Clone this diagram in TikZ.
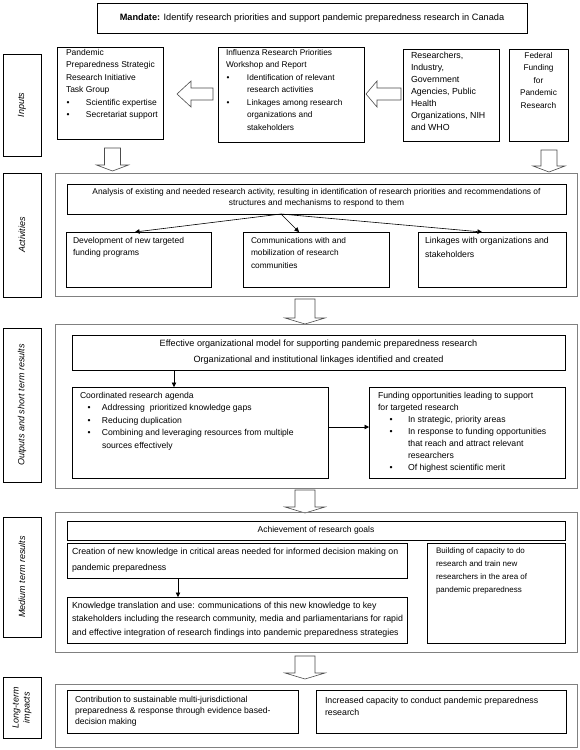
\documentclass[tikz,border=0pt]{standalone}
\usepackage{fontspec}
\setmainfont{Liberation Sans}
\usetikzlibrary{arrows.meta}
\newcommand\fsz[2]{\fontsize{#1}{#2}\selectfont}
\newcommand\myfs{\fsz{8.5}{12.5}}
\newcommand\bul[1][20pt]{\makebox[#1][l]{\hspace{0.5pt}\textbullet}}
\newcommand\hang[1][20pt]{\hspace*{#1}}
\newcommand\bx[6][box]{\node[#1, anchor=north west, inner sep=0pt, outer sep=0pt, minimum width={#5-#3}, minimum height={#6-#4}] (#2) at (#3,#4) {};}
\newcommand\downarr[5]{% cx, y1, y2, y3, half head width
  \draw[blockarr] (#1-#5*0.5,#2) -- (#1+#5*0.5,#2) -- (#1+#5*0.5,#3) -- (#1+#5,#3) -- (#1,#4) -- (#1-#5,#3) -- (#1-#5*0.5,#3) -- cycle;}
\newcommand\leftarr[4]{% tip x, head base x, tail x, cy
  \draw[blockarr] (#1,#4) -- (#2,#4-13) -- (#2,#4-6) -- (#3,#4-6) -- (#3,#4+6) -- (#2,#4+6) -- (#2,#4+13) -- cycle;}
\begin{document}
\begin{tikzpicture}[x=1pt,y=-1pt,
  box/.style={draw=black, line width=0.75pt, fill=white},
  cont/.style={draw=black!50, line width=0.9pt},
  blockarr/.style={draw=black!70, line width=0.6pt, fill=white},
  arr/.style={draw=black, line width=0.6pt, -{Triangle[length=4.5pt,width=4.5pt]}},
  txt/.style={inner sep=0pt, outer sep=0pt, anchor=north west, align=left, font=\myfs},
  ctxt/.style={inner sep=0pt, outer sep=0pt, anchor=north, align=center, font=\myfs},
  lbl/.style={rotate=90, inner sep=0pt, align=center, font=\fsz{9}{11}\itshape}]
\useasboundingbox[fill=white] (0,0) rectangle (580,750);

% mandate
\bx{mand}{97}{3}{527}{33}
\node[inner sep=0pt, font=\fsz{9.2}{11}] (mandt) at (mand.center) {\textbf{Mandate:} Identify research priorities and support pandemic preparedness research in Canada};

% side labels
\bx{linp}{3}{54}{41}{156}
\bx{lact}{3}{173}{41}{297}
\bx{lout}{3}{328}{41}{482}
\bx{lmed}{3}{517}{41}{637}
\bx{llng}{3}{677}{41}{738}
\node[lbl] (linpt) at (linp.center) {Inputs};
\node[lbl] (lactt) at (lact.center) {Activities};
\node[lbl] (loutt) at (lout.center) {Outputs and short term results};
\node[lbl] (lmedt) at (lmed.center) {Medium term results};
\node[lbl] (llngt) at (llng.center) {Long-term\\impacts};

% inputs
\bx{tg}{57}{47}{163}{139}
\bx{infl}{218}{47}{364}{142}
\bx{res}{403}{49}{499}{141}
\bx{fed}{509}{49}{568}{141}
\node[txt] (tgt) at (66,49) {Pandemic\\Preparedness Strategic\\Research Initiative\\Task Group\\\bul Scientific expertise\\\bul Secretariat support};
\node[txt, font=\fsz{8.3}{12.5}] (inflt) at (226,49) {Influenza Research Priorities\\Workshop and Report\\\bul[21pt]Identification of relevant\\\hang[21pt]research activities\\\bul[21pt]Linkages among research\\\hang[21pt]organizations and\\\hang[21pt]stakeholders};
\node[txt, font=\fsz{8.8}{12}] (rest) at (411,52) {Researchers,\\Industry,\\Government\\Agencies, Public\\Health\\Organizations, NIH\\and WHO};
\node[ctxt, font=\fsz{8.3}{12.5}] (fedt) at (538.5,52) {Federal\\Funding\\for\\Pandemic\\Research};
\leftarr{177}{191}{213}{94}
\leftarr{366}{377}{401}{94}
\downarr{112.5}{148}{165}{171}{16}
\downarr{549}{150}{166}{172}{16}

% activities
\bx[cont]{actc}{55}{173}{577}{296}
\bx{ana}{67}{184}{566}{214}
\bx{dev}{66}{232}{211}{287}
\bx{com}{243}{232}{389}{287}
\bx{lnk}{418}{232}{566}{287}
\node[ctxt, font=\fsz{8.4}{11.5}] (anat) at (316.5,188) {Analysis of existing and needed research activity, resulting in identification of research priorities and recommendations of\\structures and mechanisms to respond to them};
\node[txt] (devt) at (73,237) {Development of new targeted\\funding programs};
\node[txt, font=\fsz{8.3}{12.5}] (comt) at (251,237) {Communications with and\\mobilization of research\\communities};
\node[txt, font=\fsz{8.7}{14}] (lnkt) at (425,237) {Linkages with organizations and\\stakeholders};
\coordinate (asrc) at (281,214);
\draw[arr] (asrc) -- (dev.north -| 135,0);
\draw[arr] (asrc) -- (com.north -| 299,0);
\draw[arr] (asrc) -- (lnk.north -| 482,0);
\downarr{305}{299}{318}{324}{20}

% outputs
\bx[cont]{outc}{55}{324}{577}{488}
\bx{eff}{72}{335}{565}{370}
\bx{crd}{72}{387}{328}{478}
\bx{fnd}{369}{387}{565}{478}
\node[ctxt, font=\fsz{9.1}{16}] (efft) at (318.5,340) {Effective organizational model for supporting pandemic preparedness research\\Organizational and institutional linkages identified and created};
\node[txt, font=\fsz{8.6}{12.5}] (crdt) at (80,392) {Coordinated research agenda\\\hang[7pt]\bul[15pt]Addressing\ \ prioritized knowledge gaps\\\hang[7pt]\bul[15pt]Reducing duplication\\\hang[7pt]\bul[15pt]Combining and leveraging resources from multiple\\\hang[22pt]sources effectively};
\node[txt, font=\fsz{8.7}{12}] (fndt) at (378,392) {Funding opportunities leading to support\\for targeted research\\\hang[11pt]\bul[19pt]In strategic, priority areas\\\hang[11pt]\bul[19pt]In response to funding opportunities\\\hang[30pt]that reach and attract relevant\\\hang[30pt]researchers\\\hang[11pt]\bul[19pt]Of highest scientific merit};
\draw[arr] (eff.south -| 174,0) -- (crd.north -| 174,0);
\draw[arr] (crd.east |- 0,427) -- (fnd.west |- 0,427);
\downarr{305}{490}{507}{513}{20}

% medium term
\bx[cont]{medc}{55}{512}{577}{652}
\bx{ach}{67}{521}{565}{540}
\bx{cre}{67}{543}{407}{578}
\bx{kno}{67}{597}{407}{643}
\bx{bld}{427}{543}{565}{643}
\node[inner sep=0pt, font=\myfs] (acht) at (ach.center) {Achievement of research goals};
\node[txt, font=\fsz{8.8}{16}] (cret) at (72,548) {Creation of new knowledge in critical areas needed for informed decision making on\\pandemic preparedness};
\node[txt, font=\fsz{8.8}{13.5}] (knot) at (72,602) {Knowledge translation and use: communications of this new knowledge to key\\stakeholders including the research community, media and parliamentarians for rapid\\and effective integration of research findings into pandemic preparedness strategies};
\node[txt, font=\fsz{8}{13}] (bldt) at (436,548) {Building of capacity to do\\research and train new\\researchers in the area of\\pandemic preparedness};
\draw[arr] (cre.south -| 178,0) -- (kno.north -| 178,0);
\downarr{305}{656}{673}{679}{20}

% long term
\bx[cont]{lngc}{55}{684}{577}{747}
\bx{con}{67}{690}{298}{733}
\bx{inc}{316}{690}{566}{733}
\node[txt, font=\fsz{8.6}{11}] (cont) at (75,696) {Contribution to sustainable multi-jurisdictional\\preparedness \& response through evidence based-\\decision making};
\node[txt, font=\fsz{8.8}{12}] (inct) at (325,697) {Increased capacity to conduct pandemic preparedness\\research};
\end{tikzpicture}
\end{document}
